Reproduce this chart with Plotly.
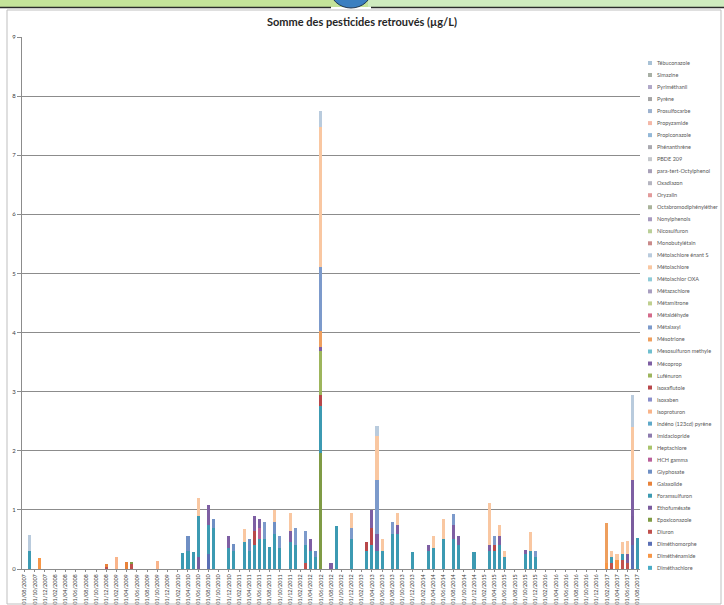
import plotly.graph_objects as go

# ---------------- data ----------------
categories = [
    "01/08/2007", "01/09/2007", "01/10/2007", "01/11/2007", "01/12/2007",
] + [f"01/{m:02d}/{y}" for y in range(2008, 2017) for m in range(1, 13)] + [
    "01/01/2017", "01/02/2017", "01/03/2017", "01/04/2017", "01/05/2017",
    "01/06/2017", "01/07/2017", "01/08/2017",
]
tick_labels = categories[::2]

# series listed bottom of stack -> top (legend shows them reversed)
series_names = [
    "Diméthachlore", "Diméthénamide", "Diméthomorphe", "Diuron", "Epoxiconazole",
    "Ethofumésate", "Foramsulfuron", "Galaxolide", "Glyphosate", "HCH gamma",
    "Heptachlore", "Imidaclopride", "Indéno (123cd) pyrène", "Isoproturon",
    "Isoxaben", "Isoxaflutole", "Lufénuron", "Mécoprop", "Mesosulfuron methyle",
    "Mésotrione", "Métalaxyl", "Métaldéhyde", "Métamitrone", "Métazachlore",
    "Métolachlor OXA", "Métolachlore", "Métolachlore énant S", "Monobutylétain",
    "Nicosulfuron", "Nonylphenols", "Octabromodiphényléther", "Oryzalin",
    "Oxadiazon", "para-tert-Octylphenol", "PBDE 209", "Phénanthrène",
    "Propiconazole", "Propyzamide", "Prosulfocarbe", "Pyrène", "Pyriméthanil",
    "Simazine", "Tébuconazole",
]

series_colors = [
    "#4BACC6", "#F79646", "#5A6FB5", "#C0504D", "#7F9B45",
    "#7A5C9E", "#3C9AB2", "#E8823A", "#6F8FC4", "#B9609A",
    "#A9C46C", "#8D7BAE", "#5FA9C9", "#F9B48A",
    "#8A8FCB", "#B8474A", "#9DB55C", "#7E5FA3", "#6FBFCF",
    "#EE9F5E", "#7C9ACB", "#D46A8A", "#BFCF8F", "#A89EC0",
    "#8FCBD8", "#F9C7A1", "#B9CBDD", "#C98A8A",
    "#BACF98", "#A79BBF", "#A9B39A", "#E29A9A",
    "#B5B5C0", "#A8A0B8", "#C5C8CC", "#A9A9B0",
    "#93B8D8", "#F4B8A8", "#9DB2CF", "#A5A5A5", "#B0A8C8",
    "#A8B0A5", "#A9C2D6",
]

# sparse values (µg/L) by sampling date
v_dimethenamide = {"01/11/2007": 0.18, "01/02/2017": 0.10, "01/04/2017": 0.15}
v_dimethomorphe = {"01/08/2010": 0.25, "01/07/2017": 0.40}
v_diuron = {"01/12/2008": 0.05, "01/05/2009": 0.08, "01/03/2012": 0.10,
            "01/03/2017": 0.10, "01/05/2017": 0.15, "01/06/2017": 0.10}
v_epoxiconazole = {"01/05/2009": 0.04, "01/06/2012": 1.96}
v_ethofumesate = {"01/06/2010": 0.20, "01/06/2017": 0.15, "01/07/2017": 0.50}
v_foramsulfuron = {
    "01/09/2007": 0.30, "01/03/2010": 0.27, "01/04/2010": 0.30, "01/05/2010": 0.28,
    "01/06/2010": 0.70, "01/08/2010": 0.50, "01/09/2010": 0.70, "01/12/2010": 0.35,
    "01/01/2011": 0.30, "01/03/2011": 0.45, "01/04/2011": 0.30, "01/05/2011": 0.40,
    "01/06/2011": 0.50, "01/07/2011": 0.50, "01/08/2011": 0.38, "01/09/2011": 0.60,
    "01/10/2011": 0.35, "01/12/2011": 0.45, "01/01/2012": 0.40, "01/03/2012": 0.30,
    "01/04/2012": 0.30, "01/05/2012": 0.20, "01/06/2012": 0.79, "01/09/2012": 0.72,
    "01/12/2012": 0.50, "01/03/2013": 0.30, "01/04/2013": 0.40, "01/05/2013": 0.30,
    "01/06/2013": 0.30, "01/08/2013": 0.60, "01/09/2013": 0.60, "01/12/2013": 0.28,
    "01/03/2014": 0.30, "01/04/2014": 0.35, "01/06/2014": 0.50, "01/08/2014": 0.50,
    "01/09/2014": 0.40, "01/12/2014": 0.28, "01/03/2015": 0.30, "01/04/2015": 0.30,
    "01/05/2015": 0.40, "01/06/2015": 0.20, "01/10/2015": 0.25, "01/11/2015": 0.30,
    "01/12/2015": 0.20, "01/03/2017": 0.10, "01/05/2017": 0.10, "01/08/2017": 0.52,
}
v_galaxolide = {"01/12/2008": 0.03, "01/04/2009": 0.12}
v_glyphosate = {"01/04/2010": 0.25, "01/09/2010": 0.15, "01/01/2011": 0.12,
                "01/04/2011": 0.20, "01/09/2011": 0.20, "01/05/2012": 0.10}
v_hch_gamma = {"01/06/2011": 0.20}
v_isoproturon = {"01/02/2009": 0.20, "01/10/2009": 0.13}
v_isoxaflutole = {"01/05/2011": 0.25, "01/06/2012": 0.19, "01/03/2013": 0.15,
                  "01/04/2013": 0.30, "01/04/2015": 0.10}
v_lufenuron = {"01/06/2012": 0.74}
v_mecoprop = {
    "01/08/2010": 0.33, "01/12/2010": 0.20, "01/05/2011": 0.25, "01/06/2011": 0.15,
    "01/12/2011": 0.20, "01/04/2012": 0.20, "01/06/2012": 0.08, "01/08/2012": 0.10,
    "01/04/2013": 0.30, "01/05/2013": 0.30, "01/09/2013": 0.15, "01/03/2014": 0.10,
    "01/08/2014": 0.25, "01/09/2014": 0.15, "01/03/2015": 0.10, "01/05/2015": 0.15,
    "01/10/2015": 0.07, "01/07/2017": 0.60,
}
v_mesotrione = {"01/06/2012": 0.26, "01/02/2017": 0.67}
v_metalaxyl = {
    "01/07/2011": 0.30, "01/10/2011": 0.20, "01/01/2012": 0.30, "01/03/2012": 0.25,
    "01/06/2012": 1.09, "01/12/2012": 0.20, "01/05/2013": 0.90, "01/08/2013": 0.20,
    "01/08/2014": 0.18, "01/04/2015": 0.15, "01/12/2015": 0.10,
}
v_metolachlore = {
    "01/06/2010": 0.30, "01/03/2011": 0.23, "01/09/2011": 0.20, "01/12/2011": 0.30,
    "01/06/2012": 2.37, "01/12/2012": 0.25, "01/05/2013": 0.75, "01/06/2013": 0.20,
    "01/09/2013": 0.20, "01/04/2014": 0.20, "01/06/2014": 0.35, "01/03/2015": 0.72,
    "01/05/2015": 0.20, "01/06/2015": 0.10, "01/11/2015": 0.32, "01/03/2017": 0.10,
    "01/04/2017": 0.10, "01/05/2017": 0.20, "01/06/2017": 0.23, "01/07/2017": 0.90,
}
v_metolachlore_s = {"01/09/2007": 0.27, "01/06/2012": 0.26, "01/05/2013": 0.17,
                    "01/07/2017": 0.55}

values = {
    "Diméthénamide": v_dimethenamide,
    "Diméthomorphe": v_dimethomorphe,
    "Diuron": v_diuron,
    "Epoxiconazole": v_epoxiconazole,
    "Ethofumésate": v_ethofumesate,
    "Foramsulfuron": v_foramsulfuron,
    "Galaxolide": v_galaxolide,
    "Glyphosate": v_glyphosate,
    "HCH gamma": v_hch_gamma,
    "Isoproturon": v_isoproturon,
    "Isoxaflutole": v_isoxaflutole,
    "Lufénuron": v_lufenuron,
    "Mécoprop": v_mecoprop,
    "Mésotrione": v_mesotrione,
    "Métalaxyl": v_metalaxyl,
    "Métolachlore": v_metolachlore,
    "Métolachlore énant S": v_metolachlore_s,
}

# ---------------- figure ----------------
L, R, T, B = 22, 84, 37, 36
W, H = 724, 605
PW, PH = W - L - R, H - T - B


def px(xp):
    return (xp - L) / PW


def py(yp):
    return (H - B - yp) / PH


fig = go.Figure()
for name, col in zip(series_names, series_colors):
    d = values.get(name, {})
    fig.add_trace(go.Bar(
        x=categories,
        y=[d.get(c, 0) for c in categories],
        name=name, marker=dict(color=col, line=dict(width=0)),
        showlegend=False,
    ))

# compact legend drawn like the original (last series on top)
for j, (name, col) in enumerate(reversed(list(zip(series_names, series_colors)))):
    yc = 63 + j * 12.02
    fig.add_shape(type="rect", xref="paper", yref="paper",
                  x0=px(648), x1=px(652), y0=py(yc + 2), y1=py(yc - 2),
                  fillcolor=col, line=dict(width=0))
    fig.add_annotation(x=px(655), y=py(yc), xref="paper", yref="paper",
                       text=name, showarrow=False, xanchor="left",
                       yanchor="middle", font=dict(size=5.5, color="#595959"))

# page decoration: top banner and chart frame
fig.add_shape(type="rect", xref="paper", yref="paper", layer="above",
              x0=px(-5), x1=px(730), y0=py(-5), y1=py(7),
              fillcolor="#C4E39A", line=dict(width=0))
fig.add_shape(type="rect", xref="paper", yref="paper", layer="above",
              x0=px(368), x1=px(730), y0=py(-5), y1=py(7),
              fillcolor="#CFEBBF", line=dict(width=0))
fig.add_shape(type="circle", xref="paper", yref="paper", layer="above",
              x0=px(330), x1=px(372), y0=py(-30), y1=py(8),
              fillcolor="#3B7FC0", line=dict(color="#1F3550", width=1))
fig.add_shape(type="line", xref="paper", yref="paper", layer="above",
              x0=px(-5), x1=px(331), y0=py(7.5), y1=py(7.5),
              line=dict(color="#2B2B2B", width=1.5))
fig.add_shape(type="line", xref="paper", yref="paper", layer="above",
              x0=px(371), x1=px(730), y0=py(7.5), y1=py(7.5),
              line=dict(color="#2B2B2B", width=1.5))
fig.add_shape(type="rect", xref="paper", yref="paper",
              x0=px(7), x1=px(721), y0=py(604), y1=py(10),
              fillcolor="rgba(0,0,0,0)", line=dict(color="#BFBFBF", width=1))

fig.update_layout(
    width=W, height=H,
    barmode="stack", bargap=0.4,
    paper_bgcolor="white", plot_bgcolor="white",
    margin=dict(l=L, r=R, t=T, b=B),
    font=dict(family="Lato, Open Sans, sans-serif", color="#404040"),
    title=dict(text="<b>Somme des pesticides retrouvés (µg/L)</b>",
               x=0.5, xanchor="center", y=1 - 22 / H, yanchor="middle",
               font=dict(size=11, color="#262626")),
    yaxis=dict(range=[0, 9], dtick=1, showgrid=True, gridcolor="#8C8C8C",
               gridwidth=1, showline=True, linecolor="#8C8C8C",
               ticks="outside", ticklen=4, tickcolor="#8C8C8C",
               tickfont=dict(size=6, color="#404040"), zeroline=False,
               automargin=False),
    xaxis=dict(type="category", tickmode="array", tickvals=tick_labels,
               ticktext=tick_labels, tickangle=-90,
               tickfont=dict(size=5.5, color="#404040"),
               showline=True, linecolor="#8C8C8C", ticks="outside",
               ticklen=2, tickcolor="#8C8C8C", automargin=False),
)

# remove the browser's default page margin so the figure sits at the corner
fig.write_html("out.html",
               config={"displayModeBar": False},
               post_script="document.body.style.margin='0';")
